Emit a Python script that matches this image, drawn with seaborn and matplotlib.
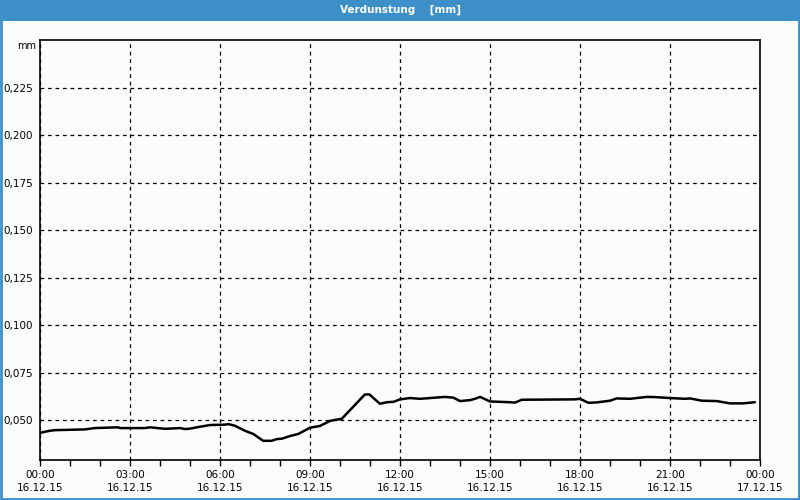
import matplotlib
matplotlib.use("Agg")
import matplotlib.pyplot as plt
import seaborn as sns
import pandas as pd
from matplotlib.patches import Rectangle
from matplotlib.ticker import FixedLocator, FuncFormatter

hours = [0, 0.33, 0.5, 1.5, 1.83, 2.6, 2.67, 3.5, 3.67, 4.17, 4.67, 4.83, 5.0,
         5.33, 5.67, 6.17, 6.28, 6.5, 6.83, 7.11, 7.44, 7.72, 7.89, 8.06, 8.33,
         8.61, 9.0, 9.33, 9.67, 10.06, 10.83, 10.98, 11.33, 11.56, 11.78, 12.0,
         12.33, 12.67, 13.0, 13.5, 13.78, 14.0, 14.33, 14.5, 14.67, 15.0, 15.67,
         15.83, 16.06, 17.83, 18.0, 18.28, 18.56, 19.0, 19.22, 19.67, 20.22,
         20.5, 21.0, 21.5, 21.67, 22.06, 22.56, 23.0, 23.44, 23.83]
values = [0.0433, 0.0444, 0.0447, 0.0451, 0.0458, 0.0462, 0.0458, 0.0458, 0.0462,
          0.0454, 0.0458, 0.0453, 0.0455, 0.0465, 0.0474, 0.0476, 0.0479, 0.0470,
          0.0444, 0.0427, 0.0391, 0.0391, 0.0400, 0.0402, 0.0416, 0.0427, 0.0460,
          0.0469, 0.0496, 0.0507, 0.0635, 0.0635, 0.0586, 0.0594, 0.0596, 0.0609,
          0.0616, 0.0612, 0.0616, 0.0622, 0.0618, 0.0600, 0.0605, 0.0612, 0.0622,
          0.0598, 0.0594, 0.0592, 0.0607, 0.0609, 0.0612, 0.0591, 0.0593, 0.0602,
          0.0614, 0.0612, 0.0622, 0.0621, 0.0616, 0.0612, 0.0614, 0.0602, 0.0600,
          0.0588, 0.0588, 0.0594]

x_tick_hours = [0, 3, 6, 9, 12, 15, 18, 21, 24]
x_tick_labels = ["00:00\n16.12.15", "03:00\n16.12.15", "06:00\n16.12.15",
                 "09:00\n16.12.15", "12:00\n16.12.15", "15:00\n16.12.15",
                 "18:00\n16.12.15", "21:00\n16.12.15", "00:00\n17.12.15"]
y_ticks = [0.050, 0.075, 0.100, 0.125, 0.150, 0.175, 0.200, 0.225]
title = "Verdunstung    [mm]"
unit = "mm"

df = pd.DataFrame({"h": hours, "v": values})

sns.set_style("white")
plt.rcParams["font.family"] = ["DejaVu Sans"]

blue = "#3d8fc7"
bg = "#fbfdfb"
fig = plt.figure(figsize=(8, 5), dpi=100, facecolor=bg)
ax = fig.add_axes([0.05, 0.08, 0.9, 0.84])
ax.set_facecolor(bg)

sns.lineplot(data=df, x="h", y="v", ax=ax, color="black", linewidth=1.8)

ax.set_xlim(0, 24)
ax.set_ylim(0.029, 0.25)
ax.set_xlabel("")
ax.set_ylabel("")

ax.xaxis.set_major_locator(FixedLocator(x_tick_hours))
ax.set_xticklabels(x_tick_labels)
ax.xaxis.set_minor_locator(FixedLocator(list(range(0, 25))))
ax.yaxis.set_major_locator(FixedLocator(y_ticks))
ax.yaxis.set_major_formatter(FuncFormatter(lambda v, p: f"{v:.3f}".replace(".", ",")))

ax.tick_params(axis="x", which="both", bottom=True, direction="out", length=4,
               width=1, color="black", labelsize=7.5, labelcolor="black", pad=3)
ax.tick_params(axis="y", which="both", left=False, length=0, labelsize=7.5,
               labelcolor="black", pad=5)
for lab in ax.get_xticklabels():
    lab.set_linespacing(1.45)

ax.grid(True, which="major", axis="both", color="black", linestyle=(0, (3, 3)),
        linewidth=0.9)
for s in ax.spines.values():
    s.set_visible(True)
    s.set_color("black")
    s.set_linewidth(1.2)

# unit label
fig.text(0.045, 1 - 46 / 500, unit, ha="right", va="center", fontsize=7,
         color="black")

# title bar
fig.patches.append(Rectangle((0, 1 - 21 / 500), 1, 21 / 500, transform=fig.transFigure,
                             facecolor=blue, edgecolor="none", zorder=0))
fig.text(0.5, 1 - 10 / 500, title, ha="center", va="center", color="white",
         fontsize=7.5, fontweight="bold")
# border
fig.patches.append(Rectangle((0.001, 0.002), 0.998, 0.996, transform=fig.transFigure,
                             facecolor="none", edgecolor=blue, linewidth=2, zorder=0))

fig.savefig("out.png", dpi=100, facecolor=bg)
